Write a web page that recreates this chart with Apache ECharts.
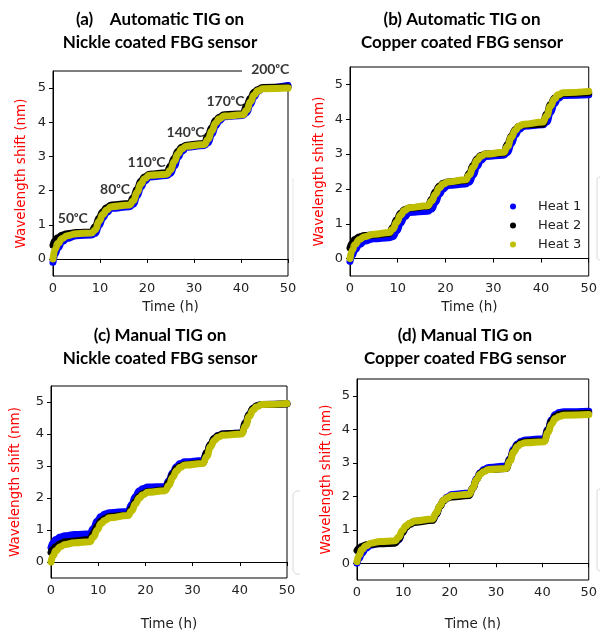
<!DOCTYPE html>
<html>
<head>
<meta charset="utf-8">
<script src="https://cdn.jsdelivr.net/npm/echarts@6/dist/echarts.min.js"></script>
<style>html,body{margin:0;padding:0;background:#fff}#c{width:600px;height:632px}</style>
</head>
<body>
<div id="c"></div>
<script>
// ---- data ----
const timeH = [0,0.5,1,2,3,5,8.2, 9.0,9.8,10.6,11.4,12.4,16.3, 17.1,17.9,18.7,19.5,20.5,24.2, 25.0,25.8,26.6,27.4,28.4,32.2, 33.0,33.8,34.6,35.4,36.4,40.4, 41.2,42.0,42.8,43.6,44.6,50];

// (a) Automatic TIG, Nickle coated
const autoNiHeat1 = [-0.1,0.15,0.32,0.5,0.6,0.68,0.7, 0.75,0.98,1.2,1.36,1.48,1.53, 1.6,1.85,2.1,2.28,2.4,2.44, 2.5,2.72,2.98,3.15,3.27,3.32, 3.4,3.65,3.9,4.05,4.16,4.2, 4.28,4.52,4.75,4.9,5.0,5.08];
const autoNiHeat2 = [0.4,0.55,0.62,0.7,0.74,0.77,0.79, 0.95,1.2,1.38,1.5,1.58,1.62, 1.8,2.05,2.28,2.4,2.48,2.52, 2.72,2.95,3.15,3.27,3.33,3.38, 3.62,3.85,4.05,4.15,4.22,4.25, 4.48,4.7,4.88,4.96,5.02,5.03];
const autoNiHeat3 = [0.0,0.3,0.45,0.6,0.68,0.74,0.76, 0.85,1.1,1.3,1.43,1.53,1.58, 1.7,1.95,2.2,2.35,2.45,2.48, 2.6,2.85,3.08,3.22,3.3,3.35, 3.5,3.75,3.98,4.1,4.18,4.22, 4.35,4.6,4.8,4.92,4.98,5.0];

// (b) Automatic TIG, Copper coated
const autoCuHeat1 = [-0.08,0.1,0.25,0.4,0.5,0.57,0.6, 0.63,0.8,1.02,1.2,1.32,1.36, 1.42,1.62,1.85,2.0,2.1,2.14, 2.2,2.4,2.65,2.82,2.93,2.97, 3.05,3.3,3.55,3.7,3.8,3.84, 3.92,4.2,4.45,4.6,4.68,4.7];
const autoCuHeat2 = [0.3,0.45,0.55,0.63,0.66,0.68,0.72, 0.9,1.12,1.3,1.4,1.45,1.5, 1.7,1.92,2.08,2.16,2.2,2.24, 2.45,2.68,2.86,2.96,3.0,3.03, 3.28,3.52,3.7,3.8,3.84,3.86, 4.15,4.42,4.6,4.68,4.74,4.76];
const autoCuHeat3 = [0.0,0.25,0.4,0.55,0.63,0.7,0.75, 0.85,1.05,1.25,1.38,1.46,1.52, 1.65,1.85,2.03,2.14,2.2,2.26, 2.4,2.62,2.82,2.94,3.0,3.05, 3.22,3.48,3.68,3.8,3.86,3.92, 4.1,4.38,4.58,4.7,4.76,4.8];

// (c) Manual TIG, Nickle coated
const manNiHeat1 = [0.45,0.6,0.7,0.78,0.82,0.86,0.88, 1.05,1.28,1.42,1.5,1.54,1.58, 1.8,2.05,2.22,2.3,2.34,2.36, 2.55,2.8,2.98,3.08,3.13,3.17, 3.42,3.68,3.86,3.95,4.0,4.03, 4.3,4.6,4.8,4.88,4.92,4.95];
const manNiHeat2 = [0.3,0.4,0.48,0.58,0.63,0.66,0.7, 0.9,1.12,1.28,1.36,1.42,1.47, 1.68,1.9,2.05,2.14,2.2,2.26, 2.5,2.75,2.92,3.0,3.05,3.1, 3.42,3.68,3.86,3.95,4.0,4.03, 4.35,4.62,4.8,4.88,4.92,4.94];
const manNiHeat3 = [0.0,0.2,0.35,0.48,0.55,0.6,0.63, 0.78,1.0,1.2,1.3,1.38,1.45, 1.6,1.82,2.0,2.1,2.18,2.23, 2.4,2.65,2.85,2.96,3.03,3.08, 3.3,3.6,3.8,3.9,3.96,4.0, 4.25,4.55,4.75,4.85,4.92,4.95];

// (d) Manual TIG, Copper coated
const manCuHeat1 = [0.0,0.15,0.3,0.45,0.54,0.6,0.62, 0.7,0.92,1.1,1.18,1.25,1.3, 1.45,1.7,1.88,1.98,2.05,2.1, 2.25,2.52,2.7,2.8,2.86,2.9, 3.12,3.4,3.56,3.64,3.68,3.72, 4.0,4.28,4.44,4.5,4.52,4.54];
const manCuHeat2 = [0.38,0.45,0.5,0.55,0.57,0.58,0.6, 0.72,0.92,1.08,1.16,1.22,1.28, 1.46,1.7,1.86,1.94,1.98,2.02, 2.25,2.5,2.68,2.76,2.8,2.83, 3.1,3.36,3.52,3.6,3.63,3.65, 3.98,4.25,4.38,4.44,4.46,4.48];
const manCuHeat3 = [0.05,0.25,0.4,0.52,0.6,0.65,0.67, 0.78,0.98,1.12,1.2,1.26,1.32, 1.5,1.72,1.88,1.96,2.02,2.06, 2.25,2.5,2.66,2.74,2.8,2.83, 3.05,3.32,3.48,3.56,3.6,3.63, 3.9,4.16,4.32,4.38,4.42,4.44];

const heatNames = ['Heat 1','Heat 2','Heat 3'];
const xTicks = [0,10,20,30,40,50];
const yTicks = [0,1,2,3,4,5];

// temperature annotations in panel (a)
const tempLabels = ['50ᵒC','80ᵒC','110ᵒC','140ᵒC','170ᵒC','200ᵒC'];
const tempTime  = [4.2,13.2,19.9,28.2,36.7,46.2];
const tempShift = [1.18,2.03,2.82,3.69,4.6,5.53];

const panelTitles = [
  ['(a)    Automatic TIG on','Nickle coated FBG sensor'],
  ['(b) Automatic TIG on','Copper coated FBG sensor'],
  ['(c) Manual TIG on','Nickle coated FBG sensor'],
  ['(d) Manual TIG on','Copper coated FBG sensor']
];
const panelSeries = [
  [autoNiHeat1, autoNiHeat2, autoNiHeat3],
  [autoCuHeat1, autoCuHeat2, autoCuHeat3],
  [manNiHeat1, manNiHeat2, manNiHeat3],
  [manCuHeat1, manCuHeat2, manCuHeat3]
];

// ---- layout ----
const grids = [
  {left:53, top:71, width:235, height:205},
  {left:350, top:67, width:242, height:209},
  {left:51, top:386, width:236, height:197},
  {left:357, top:379, width:236, height:206}
];
const xNameGap = [24, 24, 39, 37];
const yNameGap = [25, 24, 29, 24];
const titlePos = [[160,20,43],[462,20,43],[160,336,359],[465,336,359]];
const colors = ['#0000ff','#000000','#bfbf00'];
const tickFont = 'DejaVu Sans';

const chart = echarts.init(document.getElementById('c'), null, {renderer:'canvas'});

const xAxes = [], yAxes = [], series = [], graphics = [];
grids.forEach((g, i) => {
  xAxes.push({
    type:'value', gridIndex:i, min:0, max:50, interval:10,
    name:'Time (h)', nameLocation:'middle', nameGap:xNameGap[i],
    nameTextStyle:{fontFamily:tickFont, fontSize:13.5, color:'#222'},
    axisLine:{show:true, lineStyle:{color:'#000', width:1}},
    axisTick:{show:true, inside:false, length:4, customValues:xTicks, lineStyle:{color:'#000'}},
    axisLabel:{fontFamily:tickFont, fontSize:13, color:'#222', margin:6, customValues:xTicks},
    splitLine:{show:false}
  });
  yAxes.push({
    type:'value', gridIndex:i, min:-0.5, max:5.5,
    name:'Wavelength shift (nm)', nameLocation:'middle', nameGap:yNameGap[i], nameRotate:90,
    nameTextStyle:{fontFamily:tickFont, fontSize:13.5, color:'#ff0000'},
    axisLine:{show:true, lineStyle:{color:'#000', width:1}},
    axisTick:{show:true, inside:false, length:4, customValues:yTicks, lineStyle:{color:'#000'}},
    axisLabel:{fontFamily:tickFont, fontSize:13, color:'#222', margin:7, customValues:yTicks},
    splitLine:{show:false}
  });
  panelSeries[i].forEach((arr, k) => {
    series.push({
      type:'line', name:heatNames[k], xAxisIndex:i, yAxisIndex:i,
      data: timeH.map((t, j) => [t, arr[j]]),
      showSymbol:false, symbol:'none', smooth:0.5, smoothMonotone:'x',
      lineStyle:{color:colors[k], width:7, cap:'round', join:'round'},
      itemStyle:{color:colors[k]},
      z: 2 + k, animation:false
    });
  });
  const tp = titlePos[i];
  graphics.push({type:'text', x:tp[0], y:tp[1], z:50, style:{text:panelTitles[i][0], textAlign:'center', textVerticalAlign:'middle', font:'bold 17px Lato', fill:'#000'}});
  graphics.push({type:'text', x:tp[0], y:tp[2], z:50, style:{text:panelTitles[i][1], textAlign:'center', textVerticalAlign:'middle', font:'bold 17px Lato', fill:'#000'}});
});

// annotations for panel (a)
series.push({
  type:'scatter', xAxisIndex:0, yAxisIndex:0, symbolSize:0, clip:false, silent:true, z:20,
  data: tempTime.map((t, j) => ({value:[t, tempShift[j]], name:tempLabels[j]})),
  label:{show:true, position:'inside', formatter:p => p.name,
    fontFamily:'Lato', fontWeight:'bold', fontSize:14, color:'#000'},
  emphasis:{disabled:true}, animation:false
});

// faint remnants of neighbouring frames at panel edges
graphics.push({type:'polyline', z:1, shape:{points:[[293,178],[293,262]]}, style:{stroke:'#e6e6e6', lineWidth:1, fill:null}});
graphics.push({type:'polyline', z:1, shape:{points:[[600,177],[599,177],[597,179],[597,258],[599,260],[600,260]]}, style:{stroke:'#d8d8d8', lineWidth:1, fill:null}});
graphics.push({type:'polyline', z:1, shape:{points:[[300,491],[296,491],[293,494],[293,571],[296,574],[300,574]]}, style:{stroke:'#d8d8d8', lineWidth:1, fill:null}});
graphics.push({type:'polyline', z:1, shape:{points:[[600,489],[599,489],[597,491],[597,569],[599,571],[600,571]]}, style:{stroke:'#d8d8d8', lineWidth:1, fill:null}});

chart.setOption({
  animation:false,
  backgroundColor:'#ffffff',
  grid: grids.map(g => Object.assign({show:true, borderColor:'#000', borderWidth:1, backgroundColor:'transparent'}, g)),
  xAxis: xAxes,
  yAxis: yAxes,
  legend: {
    data: heatNames, orient:'vertical', left:505, top:195,
    icon:'circle', itemWidth:40, itemHeight:6, itemGap:6,
    textStyle:{fontFamily:tickFont, fontSize:13, color:'#222'},
    selectedMode:false
  },
  series: series,
  graphic: graphics
});

// cover the top-right corner of panel (a) frame behind the 200ᵒC label
const p200 = chart.convertToPixel({gridIndex:0}, [50, 5.5]);
chart.setOption({graphic: graphics.concat([{
  type:'rect', z:10, shape:{x:242, y:p200[1]-6, width:52, height:17}, style:{fill:'#fff'}
}])});
</script>
</body>
</html>
